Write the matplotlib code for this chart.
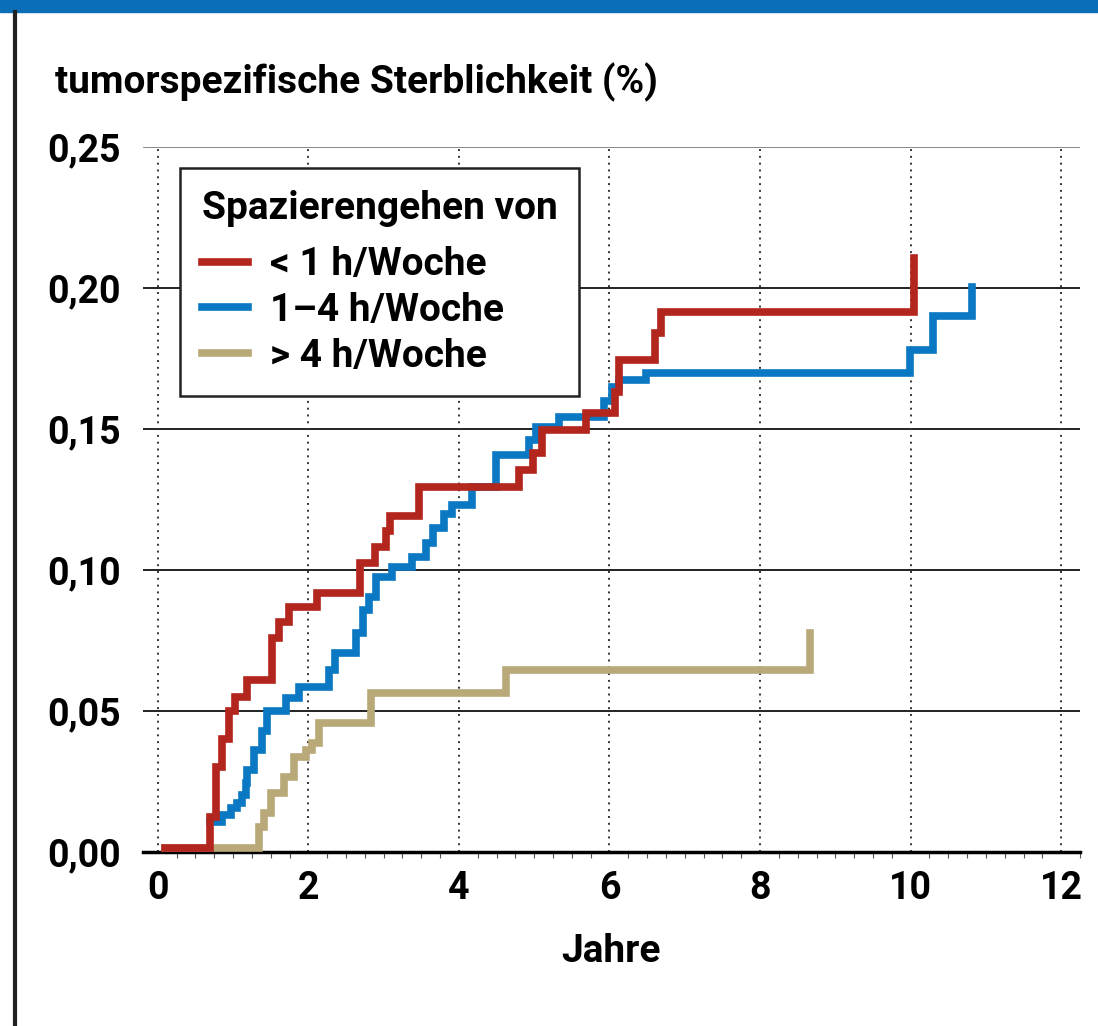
import matplotlib
matplotlib.use("Agg")
import matplotlib.pyplot as plt
from matplotlib.patches import Rectangle
from matplotlib.lines import Line2D
from matplotlib.ticker import MultipleLocator

# ---- data ----------------------------------------------------------------------------------
red_t = [0.10, 0.69, 0.77, 0.85, 0.94, 1.03, 1.19, 1.52, 1.61, 1.74, 2.12, 2.68, 2.89, 3.03,
         3.09, 3.47, 4.80, 4.98, 5.11, 5.69, 6.07, 6.13, 6.60, 6.68, 10.04]
red_y = [0.0015, 0.0124, 0.030, 0.040, 0.050, 0.055, 0.061, 0.076, 0.0816, 0.087, 0.092,
         0.1025, 0.108, 0.114, 0.119, 0.1295, 0.1355, 0.1414, 0.1496, 0.1556, 0.163, 0.1745,
         0.184, 0.1915, 0.2106]

blue_t = [0.70, 0.855, 0.966, 1.055, 1.12, 1.17, 1.19, 1.28, 1.39, 1.45, 1.70, 1.87, 2.28,
          2.36, 2.63, 2.72, 2.80, 2.90, 3.11, 3.38, 3.56, 3.65, 3.80, 3.91, 4.18, 4.49, 4.93,
          5.02, 5.33, 5.93, 6.04, 6.13, 6.49, 9.99, 10.30, 10.81]
blue_y = [0.0107, 0.0131, 0.0155, 0.0173, 0.0202, 0.0244, 0.029, 0.036, 0.043, 0.050, 0.0546,
          0.0585, 0.0645, 0.0705, 0.0777, 0.0858, 0.0905, 0.0975, 0.101, 0.1046, 0.1095, 0.115,
          0.120, 0.123, 0.1295, 0.1408, 0.146, 0.1507, 0.1543, 0.160, 0.165, 0.1674, 0.170,
          0.178, 0.190, 0.2004]

tan_t = [0.10, 1.34, 1.41, 1.50, 1.68, 1.81, 1.97, 2.05, 2.14, 2.83, 4.62, 8.67]
tan_y = [0.0015, 0.0089, 0.0138, 0.021, 0.0266, 0.0337, 0.036, 0.0387, 0.0457, 0.0564,
         0.0645, 0.0777]

labels = ["< 1 h/Woche", "1–4 h/Woche", "> 4 h/Woche"]
colors = ["#b3261e", "#0a78c2", "#b9a978"]
xticks = [0, 2, 4, 6, 8, 10, 12]
yticks = [0.00, 0.05, 0.10, 0.15, 0.20, 0.25]

plt.rcParams["font.family"] = ["Roboto", "DejaVu Sans"]
plt.rcParams["font.weight"] = "bold"
plt.rcParams["axes.labelweight"] = "bold"

FS = 28      # running text
FS_TICK = 27
fig = plt.figure(figsize=(10.98, 10.26), dpi=100)
ax = fig.add_axes([0.130, 0.1696, 0.8536, 0.6871])

# step curves (tan underneath, red on top)
series = [(tan_t, tan_y, 2), (blue_t, blue_y, 1), (red_t, red_y, 0)]
for t, y, i in series:
    ax.step(t, y, where="post", color=colors[i], lw=5.5, zorder=3 + (2 - i),
            solid_joinstyle="miter", label=labels[i])

ax.set_xlim(-0.2, 12.25)
ax.set_ylim(0, 0.25)
ax.set_xticks(xticks)
ax.set_yticks(yticks)
ax.set_yticklabels([f"{v:.2f}".replace(".", ",") for v in yticks])
ax.xaxis.set_minor_locator(MultipleLocator(0.25))
ax.tick_params(axis="both", which="major", length=0, labelsize=FS_TICK, pad=13)
ax.tick_params(axis="y", which="major", pad=16)
ax.tick_params(axis="x", which="minor", length=4, width=0.8, color="#555")

# grid: solid horizontals, dotted verticals
for v in yticks[1:]:
    ax.axhline(v, color="#222" if v < 0.25 else "#888", lw=1.4, zorder=1)
for v in xticks:
    ax.axvline(v, color="#333", lw=1.4, ls=(0, (1, 2.5)), zorder=1)

for s in ["top", "right", "left"]:
    ax.spines[s].set_visible(False)
ax.spines["bottom"].set_linewidth(2.5)
ax.spines["bottom"].set_zorder(2)

ax.set_xlabel("Jahre", fontsize=FS, labelpad=19)
fig.text(0.05, 0.920, "tumorspezifische Sterblichkeit (%)", fontsize=FS, ha="left",
         va="center")

handles = [Line2D([], [], color=c, lw=5.5) for c in colors]
leg = ax.legend(handles, labels, title="Spazierengehen von", loc="upper left",
                bbox_to_anchor=(0.0395, 0.970), borderaxespad=0, fontsize=FS,
                title_fontsize=FS, fancybox=False, framealpha=1, edgecolor="#222",
                handlelength=1.2, handletextpad=0.55, labelspacing=0.22, borderpad=0.56,
                alignment="left")
leg._legend_box.sep = 14
leg.get_frame().set_linewidth(1.8)
leg.set_zorder(10)

# page furniture: blue bar on top, black rule on the left
fig.patches.append(Rectangle((0, 1 - 12 / 1026), 1, 12 / 1026, transform=fig.transFigure,
                             color="#0b6fb8", zorder=0))
fig.lines.append(Line2D([15 / 1098, 15 / 1098], [0, 1 - 12 / 1026], transform=fig.transFigure,
                        color="#222", lw=3))

fig.savefig("out.png", dpi=100)
